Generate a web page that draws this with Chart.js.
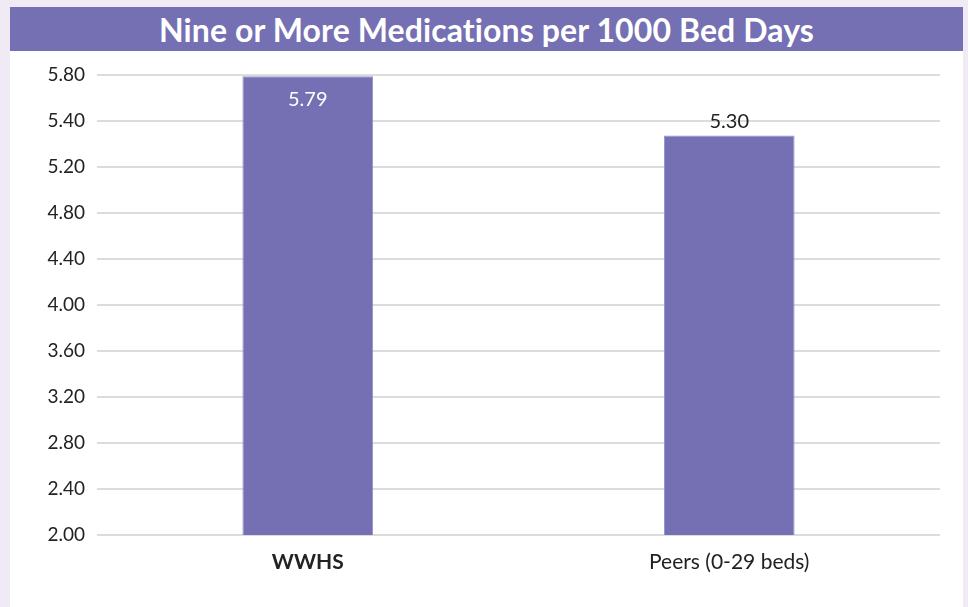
<!DOCTYPE html>
<html>
<head>
<meta charset="utf-8">
<script src="https://cdn.jsdelivr.net/npm/chart.js@4"></script>
<style>
  html, body { margin: 0; padding: 0; }
  body { width: 968px; height: 607px; background: #efeaf4; position: relative; overflow: hidden; font-family: Lato, sans-serif; }
  #title {
    position: absolute; left: 10px; top: 7px; width: 953px; height: 44px;
    background: #7570b3; color: #fff; font-weight: bold; font-size: 32px;
    text-align: center; line-height: 46px; letter-spacing: 0.1px;
  }
  #panel { position: absolute; left: 10px; top: 51px; width: 953px; height: 556px; background: #fff; }
</style>
</head>
<body>
<div id="title">Nine or More Medications per 1000 Bed Days</div>
<div id="panel"><canvas id="myChart" width="953" height="556"></canvas></div>
<script>
const categories = ['WWHS', 'Peers (0-29 beds)']
const values = [5.79, 5.30]
const yTickLabels = ['2.00', '2.40', '2.80', '3.20', '3.60', '4.00', '4.40', '4.80', '5.20', '5.40', '5.80']
const yMin = 2.0
const yMax = 5.8

// value labels: inside the tallest bar, above the others
const barLabels = {
    id: 'barLabels',
    afterDatasetsDraw(chart) {
        const ctx = chart.ctx
        const meta = chart.getDatasetMeta(0)
        const top = Math.max(...values)
        ctx.save()
        ctx.font = '20px Lato'
        ctx.textAlign = 'center'
        ctx.textBaseline = 'middle'
        meta.data.forEach((bar, i) => {
            const v = values[i]
            if (v === top) {
                ctx.fillStyle = '#ffffff'
                ctx.fillText(v.toFixed(2), bar.x, bar.y + 23)
            } else {
                ctx.fillStyle = '#222222'
                ctx.fillText(v.toFixed(2), bar.x, bar.y - 14)
            }
        })
        ctx.restore()
    }
}

function drawChart() {
    const ctx = document.getElementById('myChart')
    new Chart(ctx, {
        type: 'bar',
        data: {
            labels: categories,
            datasets: [{
                data: values,
                backgroundColor: '#7570b3',
                borderColor: '#9490c8',
                borderWidth: 1,
                barPercentage: 0.62,
                categoryPercentage: 0.5
            }]
        },
        options: {
            responsive: false,
            animation: false,
            layout: { padding: { top: 24, right: 23, bottom: 0, left: 0 } },
            plugins: { legend: { display: false }, tooltip: { enabled: false } },
            scales: {
                x: {
                    grid: { display: false },
                    border: { display: false },
                    ticks: {
                        color: '#222',
                        padding: 7,
                        font: (c) => ({ family: 'Lato', size: 21, weight: c.index === 0 ? 'bold' : 'normal' })
                    },
                    afterFit: (s) => { s.height = 72 }
                },
                y: {
                    min: yMin,
                    max: yMax,
                    grid: { color: '#dcdcdc', lineWidth: 2, drawTicks: false },
                    border: { display: false },
                    afterBuildTicks: (s) => {
                        s.ticks = yTickLabels.map((t, i) => ({ value: yMin + i * (yMax - yMin) / (yTickLabels.length - 1) }))
                    },
                    ticks: {
                        color: '#222',
                        padding: 12,
                        font: { family: 'Lato', size: 19 },
                        callback: (v, i) => yTickLabels[i]
                    },
                    afterFit: (s) => { s.width = 87 }
                }
            }
        },
        plugins: [barLabels]
    })
}

document.addEventListener('DOMContentLoaded', drawChart)
</script>
</body>
</html>
